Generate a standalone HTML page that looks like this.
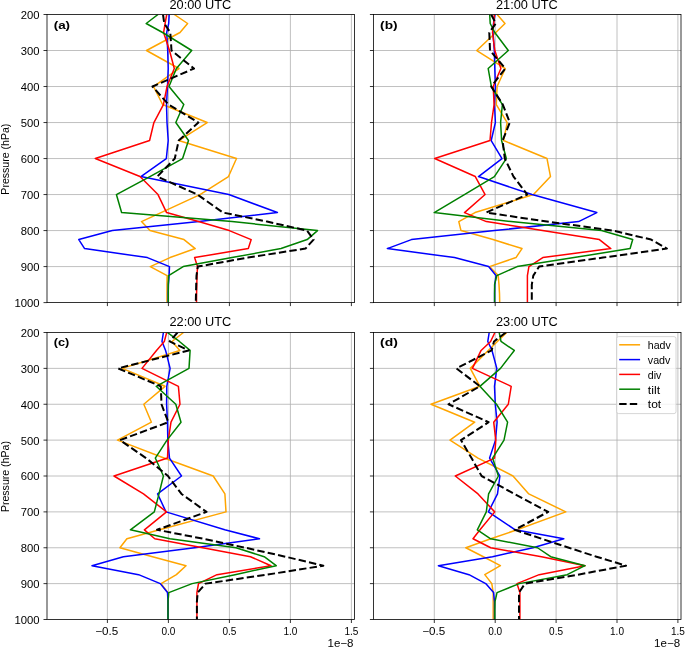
<!DOCTYPE html>
<html><head><meta charset="utf-8"><title>Pressure profiles</title>
<style>html,body{margin:0;padding:0;background:#fff;}svg{display:block;will-change:transform;}text{font-family:"Liberation Sans", sans-serif;fill:#000;}</style>
</head><body>
<svg width="685" height="647" viewBox="0 0 685 647">
<rect x="0" y="0" width="685" height="647" fill="#fff"/>
<defs>
<clipPath id="clipa"><rect x="47" y="14.5" width="307.4" height="288.1"/></clipPath>
<clipPath id="clipb"><rect x="373.4" y="14.5" width="307.6" height="288.1"/></clipPath>
<clipPath id="clipc"><rect x="47" y="332.5" width="307.4" height="287"/></clipPath>
<clipPath id="clipd"><rect x="373.4" y="332.5" width="307.6" height="287"/></clipPath>
</defs>
<path d="M107.4 14.5V302.6M168.4 14.5V302.6M229.4 14.5V302.6M290.4 14.5V302.6M351.4 14.5V302.6M47 50.51H354.4M47 86.53H354.4M47 122.54H354.4M47 158.55H354.4M47 194.56H354.4M47 230.57H354.4M47 266.59H354.4" stroke="#b0b0b0" stroke-width="0.8" fill="none"/>
<g clip-path="url(#clipa)" fill="none" stroke-linejoin="round" stroke-linecap="butt">
<polyline points="174.3,14.5 187.6,23.5 180,32.51 146.5,50.51 178.9,68.52 153.5,86.53 162.6,104.53 207.2,122.54 178.7,140.54 236.5,158.55 228.5,176.56 200,194.56 161,212.57 141.5,221.57 150,230.57 184,239.58 195.2,248.58 170,257.58 150.3,266.59 167.1,275.59 167,284.59 167,293.6 167,302.6" stroke="#ffa500" stroke-width="1.5"/>
<polyline points="169.2,14.5 168.7,23.5 166.7,32.51 167.7,50.51 168.2,68.52 167.5,86.53 166.5,104.53 167,122.54 168.2,140.54 166.3,158.55 140.9,176.56 228.8,194.56 277.4,212.57 199,221.57 112.3,230.57 78.8,239.58 84.6,248.58 147.4,257.58 169.5,266.59 169.1,275.59 168.4,284.59 168.2,293.6 168.2,302.6" stroke="#0000ff" stroke-width="1.5"/>
<polyline points="166.7,14.5 165.1,23.5 163.6,32.51 169.5,50.51 174.3,68.52 167,86.53 163.4,104.53 153.9,122.54 149.6,140.54 95.3,158.55 140,176.56 158,194.56 166.6,212.57 198.5,221.57 229.3,230.57 251.2,239.58 248.3,248.58 194.6,257.58 197.5,266.59 197,275.59 196.8,284.59 196.6,293.6 196.5,302.6" stroke="#ff0000" stroke-width="1.5"/>
<polyline points="158,14.5 146.2,23.5 162.6,32.51 191.7,50.51 176.4,68.52 169,86.53 183.8,104.53 175.8,122.54 188.5,140.54 182.6,158.55 149.9,176.56 116.4,194.56 121.6,212.57 232,221.57 317.5,230.57 307.2,239.58 281,248.58 232,257.58 183.2,266.59 168.6,275.59 168.3,284.59 168.3,293.6 168.3,302.6" stroke="#008000" stroke-width="1.5"/>
<polyline points="163,14.5 164.3,23.5 170.3,32.51 171.5,50.51 194,68.52 152.5,86.53 168.5,104.53 198.4,122.54 178.7,140.54 174.8,158.55 157.3,176.56 197.5,194.56 223,212.57 267,221.57 307,230.57 313.6,239.58 305.5,248.58 248,257.58 197.8,266.59 196.5,275.59 196.2,284.59 196,293.6 195.8,302.6" stroke="#000" stroke-width="2" stroke-dasharray="7.4 3.2"/>
</g>
<rect x="47" y="14.5" width="307.4" height="288.1" fill="none" stroke="#000" stroke-width="0.8"/>
<path d="M43.5 14.5H47M43.5 50.51H47M43.5 86.53H47M43.5 122.54H47M43.5 158.55H47M43.5 194.56H47M43.5 230.57H47M43.5 266.59H47M43.5 302.6H47M107.4 302.6V306.1M168.4 302.6V306.1M229.4 302.6V306.1M290.4 302.6V306.1M351.4 302.6V306.1" stroke="#000" stroke-width="0.8" fill="none"/>
<text x="39.6" y="18.9" font-size="10.6" text-anchor="end" textLength="18.78" lengthAdjust="spacingAndGlyphs">200</text>
<text x="39.6" y="54.91" font-size="10.6" text-anchor="end" textLength="18.78" lengthAdjust="spacingAndGlyphs">300</text>
<text x="39.6" y="90.93" font-size="10.6" text-anchor="end" textLength="18.78" lengthAdjust="spacingAndGlyphs">400</text>
<text x="39.6" y="126.94" font-size="10.6" text-anchor="end" textLength="18.78" lengthAdjust="spacingAndGlyphs">500</text>
<text x="39.6" y="162.95" font-size="10.6" text-anchor="end" textLength="18.78" lengthAdjust="spacingAndGlyphs">600</text>
<text x="39.6" y="198.96" font-size="10.6" text-anchor="end" textLength="18.78" lengthAdjust="spacingAndGlyphs">700</text>
<text x="39.6" y="234.97" font-size="10.6" text-anchor="end" textLength="18.78" lengthAdjust="spacingAndGlyphs">800</text>
<text x="39.6" y="270.99" font-size="10.6" text-anchor="end" textLength="18.78" lengthAdjust="spacingAndGlyphs">900</text>
<text x="39.6" y="307" font-size="10.6" text-anchor="end" textLength="25.14" lengthAdjust="spacingAndGlyphs">1000</text>
<text x="200.4" y="8.9" font-size="13.2" text-anchor="middle" textLength="61.8" lengthAdjust="spacingAndGlyphs">20:00 UTC</text>
<text x="53.7" y="28.7" font-size="10.8" font-weight="bold" textLength="16.4" lengthAdjust="spacingAndGlyphs">(a)</text>
<path d="M434.3 14.5V302.6M495.2 14.5V302.6M556.1 14.5V302.6M617 14.5V302.6M677.9 14.5V302.6M373.4 50.51H681M373.4 86.53H681M373.4 122.54H681M373.4 158.55H681M373.4 194.56H681M373.4 230.57H681M373.4 266.59H681" stroke="#b0b0b0" stroke-width="0.8" fill="none"/>
<g clip-path="url(#clipb)" fill="none" stroke-linejoin="round" stroke-linecap="butt">
<polyline points="497.1,14.5 505,23.5 495.8,32.51 476.8,50.51 505.3,68.52 497.1,86.53 496.3,104.53 507.2,122.54 503.6,140.54 547,158.55 550.5,176.56 533.5,194.56 475,212.57 458.8,221.57 461,230.57 493,239.58 522,248.58 516,257.58 489.5,266.59 498.2,275.59 499,284.59 499.5,293.6 499.7,302.6" stroke="#ffa500" stroke-width="1.5"/>
<polyline points="495,14.5 493.5,23.5 493,32.51 494.3,50.51 494.8,68.52 495.4,86.53 494.5,104.53 495.4,122.54 491.2,140.54 502,158.55 478.5,176.56 532,194.56 596.8,212.57 578.6,221.57 494.5,230.57 411.4,239.58 387.3,248.58 454.5,257.58 488.6,266.59 496,275.59 494.8,284.59 494.6,293.6 494.6,302.6" stroke="#0000ff" stroke-width="1.5"/>
<polyline points="494.3,14.5 493.8,23.5 492.5,32.51 494.8,50.51 500.9,68.52 493.2,86.53 494.1,104.53 491.5,122.54 490,140.54 434.7,158.55 475.3,176.56 485.1,194.56 464.5,212.57 486.4,221.57 542.5,230.57 599.4,239.58 610.8,248.58 542.8,257.58 528.9,266.59 527.4,275.59 527.4,284.59 527.4,293.6 527.4,302.6" stroke="#ff0000" stroke-width="1.5"/>
<polyline points="489.7,14.5 490.2,23.5 494.8,32.51 508.3,50.51 488.2,68.52 491.4,86.53 502.4,104.53 500.6,122.54 501.6,140.54 506.3,158.55 494.4,176.56 464.4,194.56 434.2,212.57 511,221.57 601.5,230.57 632.7,239.58 630.1,248.58 574,257.58 517.2,266.59 496.8,275.59 494.6,284.59 494.6,293.6 494.6,302.6" stroke="#008000" stroke-width="1.5"/>
<polyline points="491.2,14.5 495.8,23.5 489.3,32.51 490,50.51 505.3,68.52 491.2,86.53 502.8,104.53 509.8,122.54 502.6,140.54 504.8,158.55 513.5,176.56 527.3,194.56 486.2,212.57 547,221.57 613,230.57 651.1,239.58 666.9,248.58 603,257.58 539.1,266.59 533.3,275.59 531.8,284.59 531.8,293.6 531.8,302.6" stroke="#000" stroke-width="2" stroke-dasharray="7.4 3.2"/>
</g>
<rect x="373.4" y="14.5" width="307.6" height="288.1" fill="none" stroke="#000" stroke-width="0.8"/>
<path d="M369.9 14.5H373.4M369.9 50.51H373.4M369.9 86.53H373.4M369.9 122.54H373.4M369.9 158.55H373.4M369.9 194.56H373.4M369.9 230.57H373.4M369.9 266.59H373.4M369.9 302.6H373.4M434.3 302.6V306.1M495.2 302.6V306.1M556.1 302.6V306.1M617 302.6V306.1M677.9 302.6V306.1" stroke="#000" stroke-width="0.8" fill="none"/>
<text x="526.9" y="8.9" font-size="13.2" text-anchor="middle" textLength="61.8" lengthAdjust="spacingAndGlyphs">21:00 UTC</text>
<text x="380.1" y="28.7" font-size="10.8" font-weight="bold" textLength="17.5" lengthAdjust="spacingAndGlyphs">(b)</text>
<path d="M107.4 332.5V619.5M168.4 332.5V619.5M229.4 332.5V619.5M290.4 332.5V619.5M351.4 332.5V619.5M47 368.38H354.4M47 404.25H354.4M47 440.12H354.4M47 476H354.4M47 511.88H354.4M47 547.75H354.4M47 583.62H354.4" stroke="#b0b0b0" stroke-width="0.8" fill="none"/>
<g clip-path="url(#clipc)" fill="none" stroke-linejoin="round" stroke-linecap="butt">
<polyline points="183.5,332.5 172,341.47 179.8,350.44 122.2,368.38 165,386.31 143.8,404.25 151.4,422.19 117.5,440.12 164,458.06 213.2,476 224.9,493.94 226,511.88 159.5,529.81 126.9,538.78 119.9,547.75 152.5,556.72 186,565.69 176.4,574.66 161.1,583.62 168,592.59 168,601.56 168,610.53 168,619.5" stroke="#ffa500" stroke-width="1.5"/>
<polyline points="163.4,332.5 162,341.47 165.6,350.44 170.1,368.38 166.8,386.31 166.6,404.25 167.5,422.19 167.8,440.12 169.5,458.06 181.5,476 157.6,493.94 166,511.88 224.8,529.81 259.5,538.78 194.6,547.75 123.4,556.72 92,565.69 138.6,574.66 160.3,583.62 167.5,592.59 168,601.56 168,610.53 168,619.5" stroke="#0000ff" stroke-width="1.5"/>
<polyline points="166.7,332.5 164.3,341.47 156.5,350.44 142,368.38 178.4,386.31 180,404.25 171,422.19 168.3,440.12 167.5,458.06 114,476 143.5,493.94 166.5,511.88 144.4,529.81 154.8,538.78 202.7,547.75 250.5,556.72 271,565.69 217,574.66 198.5,583.62 196.9,592.59 196.9,601.56 196.9,610.53 196.9,619.5" stroke="#ff0000" stroke-width="1.5"/>
<polyline points="167.4,332.5 179.4,341.47 190.1,350.44 189,368.38 156.2,386.31 175.8,404.25 181,422.19 167,440.12 155.3,458.06 163.4,476 159,493.94 154.3,511.88 130.4,529.81 170,538.78 236,547.75 264.2,556.72 276.2,565.69 235,574.66 192.1,583.62 168.8,592.59 168,601.56 168,610.53 168,619.5" stroke="#008000" stroke-width="1.5"/>
<polyline points="177.5,332.5 169.7,341.47 188.7,350.44 118.1,368.38 160.8,386.31 161.5,404.25 168.3,422.19 120,440.12 146,458.06 168,476 181.5,493.94 206.5,511.88 157.1,529.81 203.3,538.78 245.5,547.75 285.5,556.72 323.3,565.69 267,574.66 205.5,583.62 197.7,592.59 196.9,601.56 196.9,610.53 196.9,619.5" stroke="#000" stroke-width="2" stroke-dasharray="7.4 3.2"/>
</g>
<rect x="47" y="332.5" width="307.4" height="287" fill="none" stroke="#000" stroke-width="0.8"/>
<path d="M43.5 332.5H47M43.5 368.38H47M43.5 404.25H47M43.5 440.12H47M43.5 476H47M43.5 511.88H47M43.5 547.75H47M43.5 583.62H47M43.5 619.5H47M107.4 619.5V623M168.4 619.5V623M229.4 619.5V623M290.4 619.5V623M351.4 619.5V623" stroke="#000" stroke-width="0.8" fill="none"/>
<text x="39.6" y="336.9" font-size="10.6" text-anchor="end" textLength="18.78" lengthAdjust="spacingAndGlyphs">200</text>
<text x="39.6" y="372.77" font-size="10.6" text-anchor="end" textLength="18.78" lengthAdjust="spacingAndGlyphs">300</text>
<text x="39.6" y="408.65" font-size="10.6" text-anchor="end" textLength="18.78" lengthAdjust="spacingAndGlyphs">400</text>
<text x="39.6" y="444.52" font-size="10.6" text-anchor="end" textLength="18.78" lengthAdjust="spacingAndGlyphs">500</text>
<text x="39.6" y="480.4" font-size="10.6" text-anchor="end" textLength="18.78" lengthAdjust="spacingAndGlyphs">600</text>
<text x="39.6" y="516.27" font-size="10.6" text-anchor="end" textLength="18.78" lengthAdjust="spacingAndGlyphs">700</text>
<text x="39.6" y="552.15" font-size="10.6" text-anchor="end" textLength="18.78" lengthAdjust="spacingAndGlyphs">800</text>
<text x="39.6" y="588.02" font-size="10.6" text-anchor="end" textLength="18.78" lengthAdjust="spacingAndGlyphs">900</text>
<text x="39.6" y="623.9" font-size="10.6" text-anchor="end" textLength="25.14" lengthAdjust="spacingAndGlyphs">1000</text>
<text x="106.8" y="635.1" font-size="10.5" text-anchor="middle" textLength="23" lengthAdjust="spacingAndGlyphs">−0.5</text>
<text x="168.4" y="635.1" font-size="10.5" text-anchor="middle" textLength="14" lengthAdjust="spacingAndGlyphs">0.0</text>
<text x="229.4" y="635.1" font-size="10.5" text-anchor="middle" textLength="14" lengthAdjust="spacingAndGlyphs">0.5</text>
<text x="290.4" y="635.1" font-size="10.5" text-anchor="middle" textLength="14" lengthAdjust="spacingAndGlyphs">1.0</text>
<text x="351.4" y="635.1" font-size="10.5" text-anchor="middle" textLength="14" lengthAdjust="spacingAndGlyphs">1.5</text>
<text x="353.5" y="647.2" font-size="10.4" text-anchor="end" textLength="26" lengthAdjust="spacingAndGlyphs">1e−8</text>
<text x="200.4" y="326.1" font-size="13.2" text-anchor="middle" textLength="61.8" lengthAdjust="spacingAndGlyphs">22:00 UTC</text>
<text x="53.7" y="345.9" font-size="10.8" font-weight="bold" textLength="15.5" lengthAdjust="spacingAndGlyphs">(c)</text>
<path d="M434.3 332.5V619.5M495.2 332.5V619.5M556.1 332.5V619.5M617 332.5V619.5M677.9 332.5V619.5M373.4 368.38H681M373.4 404.25H681M373.4 440.12H681M373.4 476H681M373.4 511.88H681M373.4 547.75H681M373.4 583.62H681" stroke="#b0b0b0" stroke-width="0.8" fill="none"/>
<g clip-path="url(#clipd)" fill="none" stroke-linejoin="round" stroke-linecap="butt">
<polyline points="506.7,332.5 497.4,341.47 488.2,350.44 470.3,368.38 479.9,386.31 431,404.25 474.7,422.19 450,440.12 478,458.06 513,476 528.8,493.94 565.8,511.88 517,529.81 490.8,538.78 465.8,547.75 483.4,556.72 500.4,565.69 484.8,574.66 491.8,583.62 493.2,592.59 493.2,601.56 493.2,610.53 493.2,619.5" stroke="#ffa500" stroke-width="1.5"/>
<polyline points="489.2,332.5 487.8,341.47 492,350.44 496.8,368.38 494.5,386.31 495.3,404.25 497.1,422.19 495.5,440.12 489.6,458.06 499.9,476 497.5,493.94 488.4,511.88 515.2,529.81 563.8,538.78 533,547.75 492.5,556.72 438.4,565.69 469,574.66 485.7,583.62 493.6,592.59 494.5,601.56 494.5,610.53 494.5,619.5" stroke="#0000ff" stroke-width="1.5"/>
<polyline points="494.9,332.5 490.6,341.47 481.1,350.44 472.4,368.38 511.2,386.31 508.3,404.25 493.7,422.19 495.8,440.12 494.5,458.06 455.3,476 478,493.94 494.7,511.88 480,529.81 473,538.78 490.7,547.75 541.5,556.72 585,565.69 539.2,574.66 517,583.62 519.9,592.59 519.9,601.56 519.9,610.53 519.9,619.5" stroke="#ff0000" stroke-width="1.5"/>
<polyline points="499.2,332.5 501,341.47 514.3,350.44 500.5,368.38 479.9,386.31 496.5,404.25 507.6,422.19 504,440.12 492.6,458.06 498.4,476 488.6,493.94 486.3,511.88 477.3,529.81 490.7,538.78 537.5,547.75 550.7,556.72 585,565.69 567.2,574.66 519.3,583.62 497,592.59 495,601.56 494.8,610.53 494.8,619.5" stroke="#008000" stroke-width="1.5"/>
<polyline points="505.8,332.5 494,341.47 491.6,350.44 456.5,368.38 479.9,386.31 448.5,404.25 488.6,422.19 461,440.12 471.5,458.06 481.6,476 514.5,493.94 548.2,511.88 514.7,529.81 541.8,538.78 568.9,547.75 596.5,556.72 626,565.69 578,574.66 525,583.62 519,592.59 519,601.56 519,610.53 519,619.5" stroke="#000" stroke-width="2" stroke-dasharray="7.4 3.2"/>
</g>
<rect x="373.4" y="332.5" width="307.6" height="287" fill="none" stroke="#000" stroke-width="0.8"/>
<path d="M369.9 332.5H373.4M369.9 368.38H373.4M369.9 404.25H373.4M369.9 440.12H373.4M369.9 476H373.4M369.9 511.88H373.4M369.9 547.75H373.4M369.9 583.62H373.4M369.9 619.5H373.4M434.3 619.5V623M495.2 619.5V623M556.1 619.5V623M617 619.5V623M677.9 619.5V623" stroke="#000" stroke-width="0.8" fill="none"/>
<text x="433.7" y="635.1" font-size="10.5" text-anchor="middle" textLength="23" lengthAdjust="spacingAndGlyphs">−0.5</text>
<text x="495.2" y="635.1" font-size="10.5" text-anchor="middle" textLength="14" lengthAdjust="spacingAndGlyphs">0.0</text>
<text x="556.1" y="635.1" font-size="10.5" text-anchor="middle" textLength="14" lengthAdjust="spacingAndGlyphs">0.5</text>
<text x="617" y="635.1" font-size="10.5" text-anchor="middle" textLength="14" lengthAdjust="spacingAndGlyphs">1.0</text>
<text x="677.9" y="635.1" font-size="10.5" text-anchor="middle" textLength="14" lengthAdjust="spacingAndGlyphs">1.5</text>
<text x="680.1" y="647.2" font-size="10.4" text-anchor="end" textLength="26" lengthAdjust="spacingAndGlyphs">1e−8</text>
<text x="526.9" y="326.1" font-size="13.2" text-anchor="middle" textLength="61.8" lengthAdjust="spacingAndGlyphs">23:00 UTC</text>
<text x="380.1" y="345.9" font-size="10.8" font-weight="bold" textLength="17.8" lengthAdjust="spacingAndGlyphs">(d)</text>
<text transform="translate(8.5 159.15) rotate(-90)" x="0" y="0" font-size="10.4" text-anchor="middle" textLength="71" lengthAdjust="spacingAndGlyphs">Pressure (hPa)</text>
<text transform="translate(8.5 476.6) rotate(-90)" x="0" y="0" font-size="10.4" text-anchor="middle" textLength="71" lengthAdjust="spacingAndGlyphs">Pressure (hPa)</text>
<rect x="616.6" y="336.6" width="59.4" height="77" rx="2" ry="2" fill="#fff" fill-opacity="0.8" stroke="#cccccc" stroke-width="0.8"/>
<path d="M619.2 344.8H640.1" stroke="#ffa500" stroke-width="1.5" fill="none"/>
<text x="647.8" y="349.2" font-size="10.2" textLength="23" lengthAdjust="spacingAndGlyphs">hadv</text>
<path d="M619.2 359.6H640.1" stroke="#0000ff" stroke-width="1.5" fill="none"/>
<text x="647.8" y="364" font-size="10.2" textLength="22.6" lengthAdjust="spacingAndGlyphs">vadv</text>
<path d="M619.2 374.4H640.1" stroke="#ff0000" stroke-width="1.5" fill="none"/>
<text x="647.8" y="378.8" font-size="10.2" textLength="13.6" lengthAdjust="spacingAndGlyphs">div</text>
<path d="M619.2 389.2H640.1" stroke="#008000" stroke-width="1.5" fill="none"/>
<text x="647.8" y="393.6" font-size="10.2" textLength="12.3" lengthAdjust="spacingAndGlyphs">tilt</text>
<path d="M619.2 404H640.1" stroke="#000" stroke-width="2" stroke-dasharray="7.4 3.2" fill="none"/>
<text x="647.8" y="408.4" font-size="10.2" textLength="13.4" lengthAdjust="spacingAndGlyphs">tot</text>
</svg>
</body></html>
